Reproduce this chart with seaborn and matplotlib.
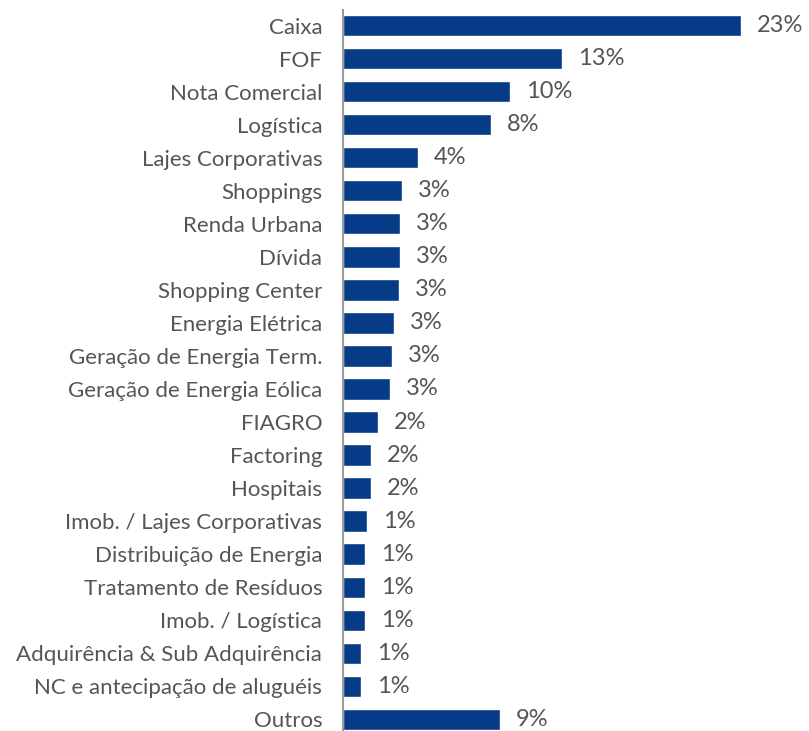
import matplotlib
matplotlib.use("Agg")
import matplotlib.pyplot as plt
import seaborn as sns
import pandas as pd

categories = ["Caixa", "FOF", "Nota Comercial", "Logística", "Lajes Corporativas",
              "Shoppings", "Renda Urbana", "Dívida", "Shopping Center", "Energia Elétrica",
              "Geração de Energia Term.", "Geração de Energia Eólica", "FIAGRO", "Factoring",
              "Hospitais", "Imob. / Lajes Corporativas", "Distribuição de Energia",
              "Tratamento de Resíduos", "Imob. / Logística", "Adquirência & Sub Adquirência",
              "NC e antecipação de aluguéis", "Outros"]
values = [23.0, 12.65, 9.65, 8.55, 4.33, 3.41, 3.3, 3.3, 3.24, 2.95, 2.83, 2.72,
          2.02, 1.62, 1.62, 1.39, 1.27, 1.27, 1.27, 1.04, 1.04, 9.07]
labels = ["23%", "13%", "10%", "8%", "4%", "3%", "3%", "3%", "3%", "3%", "3%", "3%",
          "2%", "2%", "2%", "1%", "1%", "1%", "1%", "1%", "1%", "9%"]

df = pd.DataFrame({"cat": categories, "val": values})

sns.set_theme(style="white")
plt.rcParams['font.family'] = ['Lato', 'DejaVu Sans']

fig = plt.figure(figsize=(8.09, 7.31), dpi=100)
ax = fig.add_axes([343/809, 0, 457/809, 721/731])

sns.barplot(data=df, x="val", y="cat", color="#063b87", saturation=1, width=0.64, ax=ax)

for i, (v, lab) in enumerate(zip(values, labels)):
    ax.text(v + 0.9, i, lab, va="center", ha="left", fontsize=17, color="#555555")

ax.set_xlim(0, 26.4)
ax.set_ylim(21.36, -0.48)
ax.set_xlabel("")
ax.set_ylabel("")
ax.set_xticks([])
for s in ["top", "right", "bottom"]:
    ax.spines[s].set_visible(False)
ax.spines["left"].set_color("#999999")
ax.spines["left"].set_linewidth(1.5)
ax.tick_params(axis="y", length=0, pad=15, labelsize=16, labelcolor="#555555")

fig.savefig("out.png", dpi=100)
